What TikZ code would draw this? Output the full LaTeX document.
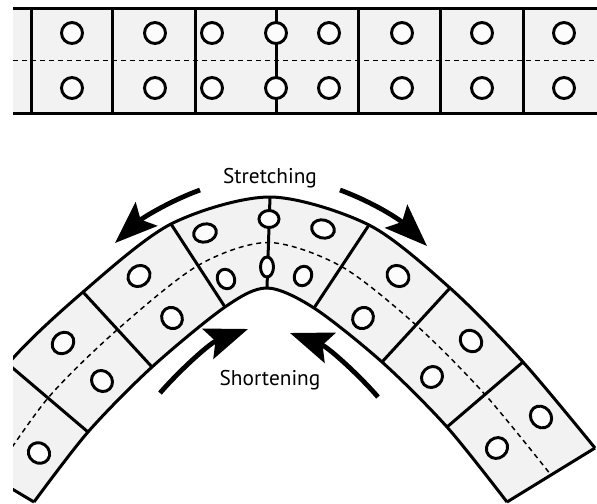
\documentclass[tikz,border=0pt]{standalone}
\usepackage{fontspec}
\setmainfont{PT Sans}
\usetikzlibrary{arrows.meta,calc}
\definecolor{stripfill}{HTML}{F2F2F2}
\definecolor{holefill}{HTML}{FCFCFC}
\tikzset{
  edge/.style={line width=2.25pt},
  midline/.style={line width=1.1pt, dash pattern=on 3.75pt off 3pt},
  hole/.style={line width=2.2pt, fill=holefill},
  bigarrow/.style={line width=3.6pt, -{Stealth[length=32pt,width=24pt,inset=6pt]}},
  caption/.style={font=\fontsize{16}{19}\selectfont, inner sep=0pt},
}
\begin{document}
\begin{tikzpicture}[x=0.75pt,y=-0.75pt]
\useasboundingbox (0,0) rectangle (597,504);

% ---- straight strip ----
\fill[stripfill] (13,8) rectangle (597,113);
\draw[midline] (13,60.5) -- (597,60.5);
\foreach \x in {31,112,195,276,358,440,523}
  \draw[edge] (\x,8) -- (\x,113);
\draw[edge] (13,8) -- (597,8) (13,113) -- (597,113);
\foreach \x in {72,155,212,276,329,402,482,564} {
  \draw[hole] (\x,33) circle [radius=10.5];
  \draw[hole] (\x,88) circle [radius=10.5];
}

% ---- bent strip ----
% outer edge points (one per cell boundary)
\coordinate (oL4) at (-50,452);
\coordinate (oL3) at (8,364);
\coordinate (oL2) at (83,292);
\coordinate (oL1) at (171,224);
\coordinate (oT)  at (270,197);
\coordinate (oR1) at (369,225);
\coordinate (oR2) at (450,288);
\coordinate (oR3) at (523,362);
\coordinate (oR4) at (595,448);
% inner edge points
\coordinate (iL4) at (34,502);
\coordinate (iL3) at (88,432);
\coordinate (iL2) at (152,367);
\coordinate (iL1) at (225,307);
\coordinate (iT)  at (267,288);
\coordinate (iR1) at (314,308);
\coordinate (iR2) at (382,362);
\coordinate (iR3) at (447,427);
\coordinate (iR4) at (507,502);
% neutral line
\foreach \k in {L4,L3,L2,L1,T,R1,R2,R3,R4}
  \coordinate (m\k) at ($(o\k)!0.5!(i\k)$);

\begin{scope}
  \clip (13,0) rectangle (597,504);
  \fill[stripfill]
    plot[smooth] coordinates {(oL4) (oL3) (oL2) (oL1) (oT) (oR1) (oR2) (oR3) (oR4)}
    -- plot[smooth] coordinates {(iR4) (iR3) (iR2) (iR1) (iT) (iL1) (iL2) (iL3) (iL4)}
    -- cycle;
  \draw[midline]
    plot[smooth] coordinates {(mL4) (mL3) (mL2) (mL1) (mT) (mR1) (mR2) (mR3) (mR4)};
  \foreach \k in {L4,L3,L2,L1,T,R1,R2,R3,R4}
    \draw[edge] (o\k) -- (i\k);
  \draw[edge]
    plot[smooth] coordinates {(oL4) (oL3) (oL2) (oL1) (oT) (oR1) (oR2) (oR3) (oR4)};
  \draw[edge]
    plot[smooth] coordinates {(iL4) (iL3) (iL2) (iL1) (iT) (iR1) (iR2) (iR3) (iR4)};

  % holes: centre, tangent angle, radius along tangent, radius across
  \foreach \cx/\cy/\a/\rt/\rn in {
      269/219/0/10/8.5, 267/267/0/6.5/10,
      205/233/15/11.5/9, 226/279/25/8.5/10,
      323/229/-15/11.5/9, 303/276/-25/8.5/10,
      139/276/37/11.5/10, 172/318/37/10/11,
      63/343/44/11.5/10, 102/381/44/10/11,
      39/453/55/10/11,
      398/276/-38/11.5/10, 363/318/-38/10/11,
      471/341/-45/11.5/10, 432/377/-45/10/11,
      541/417/-50/11.5/10, 497/448/-50/10/11}
    \draw[hole] (\cx,\cy) ellipse [x radius=\rt, y radius=\rn, rotate=\a];
\end{scope}

% ---- labels ----
\node[caption, anchor=base] (stretch) at (270,183) {Stretching};
\node[caption, anchor=base] (shorten) at (270,385) {Shortening};

% ---- arrows ----
\coordinate (sLa) at (200,190); \coordinate (sLb) at (115,243);
\coordinate (sRa) at (340,190); \coordinate (sRb) at (427,246);
\coordinate (cLa) at (160,393); \coordinate (cLb) at (248,329);
\coordinate (cRa) at (378,397); \coordinate (cRb) at (290,333);
\draw[bigarrow] (sLa) .. controls (165,203) and (140,220) .. (sLb);
\draw[bigarrow] (sRa) .. controls (375,203) and (400,220) .. (sRb);
\draw[bigarrow] (cLa) .. controls (180,370) and (210,343) .. (cLb);
\draw[bigarrow] (cRa) .. controls (358,374) and (328,347) .. (cRb);
\end{tikzpicture}
\end{document}
